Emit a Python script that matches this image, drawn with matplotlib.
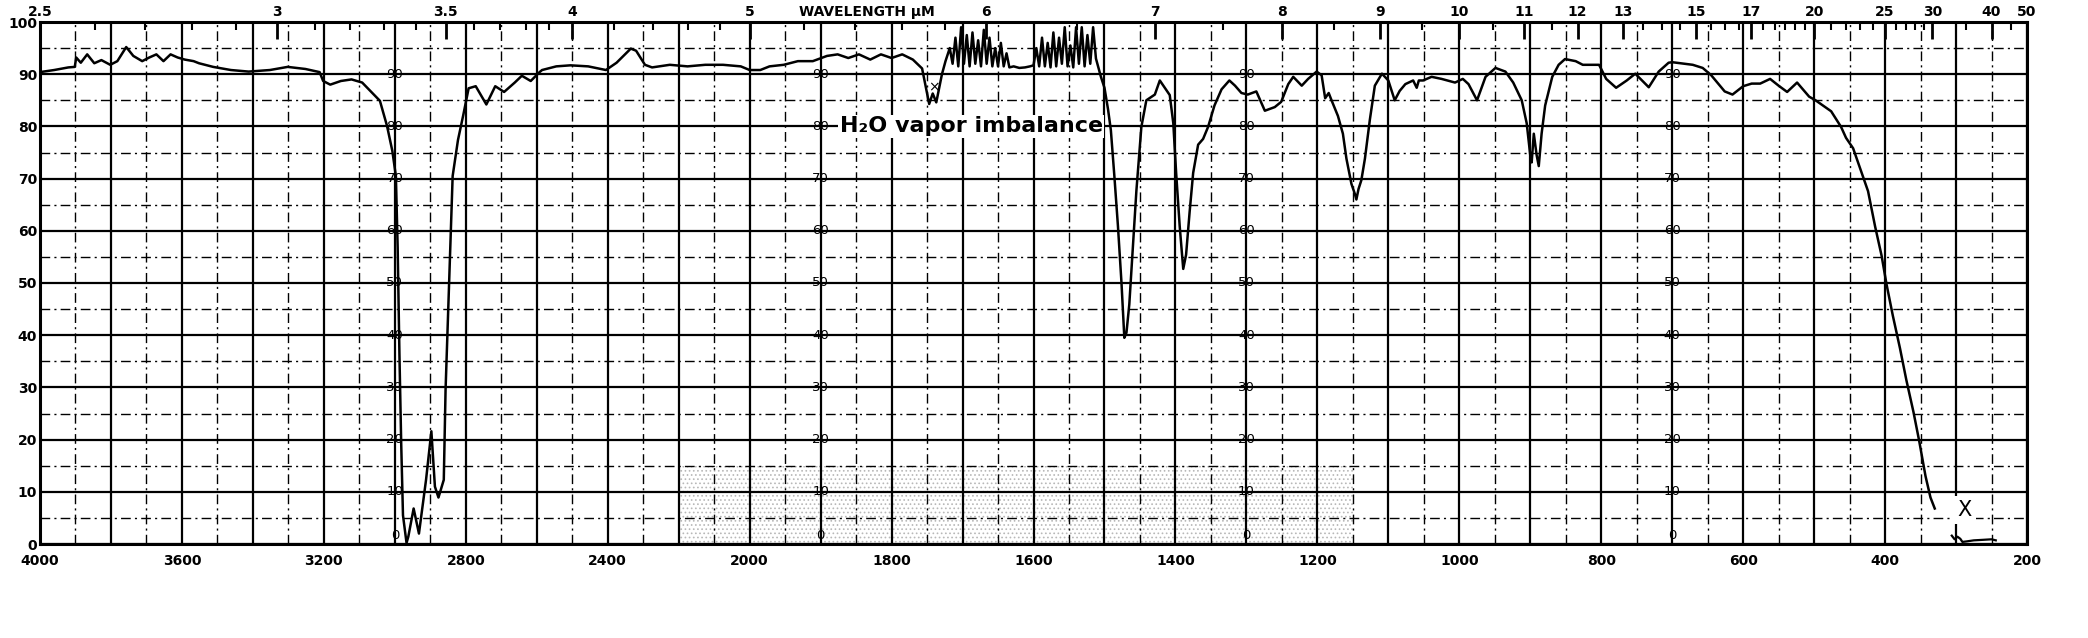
import matplotlib
matplotlib.use("Agg")
import matplotlib.pyplot as plt
import numpy as np

# --------------------------------------------------------------------------
# Spectrum trace (wavenumber cm-1, % transmittance)
# --------------------------------------------------------------------------
wavenumber = [
    4000, 3960, 3920, 3902, 3898, 3885, 3867, 3847, 3827, 3802, 3782, 3757,
    3737, 3712, 3692, 3672, 3652, 3632, 3612, 3592, 3567, 3552, 3512, 3462,
    3412, 3352, 3302, 3252, 3212, 3202, 3182, 3152, 3122, 3092, 3062, 3042,
    3022, 3007, 2997, 2992, 2987, 2982, 2977, 2967, 2962, 2947, 2932, 2912,
    2897, 2887, 2877, 2862, 2857, 2847, 2837, 2822, 2807, 2792, 2772, 2742,
    2717, 2692, 2662, 2642, 2617, 2592, 2585, 2545, 2505, 2455, 2405, 2375,
    2335, 2320, 2295, 2275, 2225, 2175, 2125, 2075, 2025, 2000, 1985, 1972,
    1952, 1932, 1911, 1891, 1876, 1861, 1846, 1830, 1815, 1800, 1785, 1770,
    1757, 1752, 1747, 1742, 1737, 1729, 1724,
    # water vapour spikes
    1718, 1714, 1710, 1706, 1702, 1698, 1694, 1690, 1686, 1682, 1678, 1674,
    1670, 1666, 1662, 1658, 1654, 1650, 1646, 1642, 1638, 1634, 1628, 1620,
    1612, 1605, 1600, 1596, 1592, 1588, 1584, 1580, 1576, 1572, 1568, 1564,
    1560, 1556, 1552, 1548, 1544, 1540, 1536, 1532, 1528, 1524, 1520, 1516,
    1512, 1508,
    1505, 1500, 1495, 1491, 1486, 1481, 1476, 1472, 1469, 1465, 1460, 1455,
    1448, 1441, 1429, 1422, 1415, 1408, 1403, 1399, 1394, 1389, 1385, 1380,
    1375, 1368, 1361, 1354, 1345, 1335, 1324, 1316, 1307, 1298, 1286, 1274,
    1260, 1251, 1241, 1234, 1222, 1213, 1201, 1194, 1189, 1184, 1180, 1171,
    1164, 1159, 1152, 1147, 1145, 1142, 1138, 1133, 1126, 1119, 1109, 1100,
    1091, 1084, 1076, 1065, 1060, 1057, 1051, 1039, 1025, 1006, 995, 987,
    975, 963, 949, 935, 924, 912, 905, 900, 898, 895, 891, 888, 884, 879,
    869, 860, 851, 836, 826, 808, 803, 793, 779, 764, 752, 733, 719, 705,
    700, 671, 657, 645, 626, 615, 600, 588, 576, 562, 550, 538, 524, 507,
    498, 476, 462, 455, 445, 431, 424, 414, 405, 398, 389, 379, 370, 360,
    352, 343, 336, 330,
]
transmittance = [
    90.4, 90.8, 91.3, 91.4, 93.2, 92.2, 93.8, 92.1, 92.7, 91.8, 92.5, 95.2,
    93.5, 92.5, 93.2, 93.8, 92.5, 93.8, 93.2, 92.8, 92.5, 92.1, 91.4, 90.8,
    90.5, 90.8, 91.4, 91.0, 90.4, 88.7, 88.0, 88.7, 89.0, 88.4, 86.3, 84.9,
    80.1, 75.3, 70.5, 56.8, 36.3, 19.2, 5.5, 0.2, 1.4, 6.8, 2.0, 12.3,
    21.6, 11.0, 8.9, 12.3, 29.5, 50.0, 70.5, 77.4, 82.2, 87.3, 87.7, 84.2,
    87.7, 86.6, 88.4, 89.7, 88.7, 90.4, 90.8, 91.5, 91.7, 91.5, 90.8, 92.2,
    94.9, 94.5, 91.8, 91.3, 91.8, 91.5, 91.8, 91.8, 91.5, 90.8, 90.8, 91.5,
    91.8, 92.5, 92.5, 93.5, 93.8, 93.1, 93.8, 92.8, 93.8, 93.1, 93.8, 92.8,
    91.1, 87.7, 84.3, 86.3, 84.6, 90.0, 92.5,
    95.0, 92.0, 97.0, 91.5, 99.0, 92.0, 97.5, 91.5, 98.0, 92.0, 96.5, 91.5,
    98.5, 92.0, 97.0, 91.5, 95.0, 91.5, 96.0, 91.5, 94.0, 91.3, 91.5, 91.2,
    91.3, 91.5, 91.7, 95.0, 91.5, 97.0, 91.5, 96.0, 91.3, 98.0, 91.5, 97.0,
    92.0, 99.0, 91.5, 95.5, 91.3, 99.0, 92.0, 99.0, 91.5, 97.5, 92.0, 99.0,
    93.0, 91.0,
    89.5, 87.4, 83.3, 79.3, 70.4, 60.9, 50.0, 39.5, 40.5, 45.9, 56.8, 67.7,
    79.9, 85.0, 86.1, 88.8, 87.4, 86.0, 80.6, 71.1, 60.9, 52.7, 55.4, 63.6,
    71.1, 76.5, 77.6, 79.9, 84.0, 87.1, 88.8, 87.8, 86.4, 86.1, 86.7, 83.0,
    83.7, 84.7, 88.1, 89.5, 87.8, 89.1, 90.5, 89.8, 85.4, 86.4, 85.0, 82.0,
    78.6, 73.8, 69.0, 67.0, 66.0, 68.0, 69.7, 73.8, 81.3, 87.8, 90.1, 88.8,
    85.0, 86.8, 88.1, 88.8, 87.4, 88.8, 88.8, 89.5, 89.1, 88.4, 89.1, 88.1,
    85.0, 89.5, 91.2, 90.5, 88.4, 85.0, 80.6, 74.5, 73.1, 78.6, 74.5, 72.4, 78.6, 84.0,
    89.5, 91.8, 92.9, 92.5, 91.8, 91.8, 91.8, 89.1, 87.4, 88.8, 90.1, 87.5, 90.5, 92.2,
    92.3, 91.8, 91.2, 89.8, 86.7, 86.1, 87.7, 88.2, 88.2, 89.1, 87.8, 86.6, 88.4, 85.7,
    85.0, 82.9, 79.9, 77.8, 75.8, 70.3, 67.6, 60.8, 55.3, 49.8, 43.7, 37.5, 31.4, 25.3,
    19.8, 13.0, 8.9, 6.8,
]

# short pen squiggle at the bottom right
tail_wavenumber = [306, 302, 298, 294, 291, 285, 275, 262, 250, 244]
tail_transmittance = [1.6, 0.9, 1.4, 1.0, 0.4, 0.5, 0.7, 0.8, 0.9, 0.7]

# axis labels
bottom_labels = [4000, 3600, 3200, 2800, 2400, 2000, 1800, 1600, 1400, 1200,
                 1000, 800, 600, 400, 200]
top_um = [2.5, 3, 3.5, 4, 5, 6, 7, 8, 9, 10, 11, 12, 13, 15, 17, 20, 25, 30, 40, 50]
top_um_labels = ["2.5", "3", "3.5", "4", "5", "6", "7", "8", "9", "10", "11", "12",
                 "13", "15", "17", "20", "25", "30", "40", "50"]
inner_label_wn = [3000, 1900, 1300, 700]
inner_levels = [90, 80, 70, 60, 50, 40, 30, 20, 10, 0]


# chart paper: 4000-2000 at one scale, 2000-200 at double scale
def fwd(w):
    w = np.asarray(w, dtype=float)
    return np.where(w >= 2000, w, 2 * w - 2000)


def inv(u):
    u = np.asarray(u, dtype=float)
    return np.where(u >= 2000, u, (u + 2000) / 2)


fig = plt.figure(figsize=(20.88, 6.38), dpi=100)
ax = fig.add_axes([40 / 2088, 1 - 544 / 638, (2027 - 40) / 2088, (544 - 22) / 638])
ax.set_xscale("function", functions=(fwd, inv))
ax.set_xlim(4000, 200)
ax.set_ylim(0, 100)

# ── grid of the chart paper ─────────────────────────────────────────
major_x = list(range(4000, 1999, -200)) + list(range(1900, 199, -100))
minor_x = list(range(3900, 2000, -200)) + list(range(1950, 200, -100))
ax.set_xticks(major_x)
ax.set_xticklabels([str(v) if v in bottom_labels else "" for v in major_x])
ax.set_xticks(minor_x, minor=True)
ax.set_yticks(range(0, 101, 10))
ax.set_yticks(range(5, 100, 10), minor=True)
ax.grid(which="major", color="black", lw=1.6)
ax.grid(which="minor", color="black", lw=1.0, ls=(0, (7, 3, 1.5, 3)))
ax.tick_params(which="both", length=0)
ax.tick_params(axis="x", pad=7, labelsize=10)
ax.tick_params(axis="y", pad=2, labelsize=10)
for lbl in ax.get_xticklabels() + ax.get_yticklabels():
    lbl.set_fontweight("bold")
for sp in ax.spines.values():
    sp.set_linewidth(2.2)

# stippled paper shading
plt.rcParams["hatch.linewidth"] = 0.7
ax.fill_between([2200, 1150], 0, 15, facecolor="none", hatch="....",
                edgecolor="0.72", lw=0, zorder=0.5)

# printed scale numbers on the paper
for wn in inner_label_wn:
    for lvl in inner_levels:
        ax.text(wn, lvl if lvl else 0.3, str(lvl), ha="center",
                va="center" if lvl else "bottom", fontsize=9.5, zorder=2.5)

# ── spectrum ─────────────────────────────────────────────────────────
ax.plot(wavenumber, transmittance, color="black", lw=1.8, zorder=3)
ax.plot(tail_wavenumber, tail_transmittance, color="black", lw=1.6, zorder=3)

ax.text(1873, 80, "H₂O vapor imbalance", ha="left", va="center", fontsize=16,
        fontweight="bold", zorder=4,
        bbox=dict(facecolor="white", edgecolor="none", pad=1))
ax.text(1740, 87.5, "×", ha="center", va="center", fontsize=10, zorder=4)
ax.text(288, 6.5, "X", ha="center", va="center", fontsize=15, zorder=4,
        bbox=dict(facecolor="white", edgecolor="none", pad=3))

# ── wavelength scale on top ──────────────────────────────────────────
minor_um = np.concatenate([np.arange(2.6, 4.0, 0.1), np.arange(4.2, 6.0, 0.2),
                           np.arange(6.5, 10.0, 0.5), np.arange(10.5, 20.0, 0.5),
                           np.arange(21, 30, 1), np.arange(35, 50, 5)])
top = ax.twiny()
top.set_xscale("function", functions=(fwd, inv))
top.set_xlim(4000, 200)
top.set_xticks([1e4 / m for m in top_um])
top.set_xticklabels(top_um_labels)
top.set_xticks([1e4 / m for m in minor_um], minor=True)
top.tick_params(axis="x", which="major", direction="in", length=12, width=2,
                pad=2, labelsize=10)
top.tick_params(axis="x", which="minor", direction="in", length=6, width=1.5)
for lbl in top.get_xticklabels():
    lbl.set_fontweight("bold")
for sp in top.spines.values():
    sp.set_visible(False)
ax.text(1835, 1.006, "WAVELENGTH μM", transform=ax.get_xaxis_transform(),
        ha="center", va="bottom", fontsize=10, fontweight="bold")

fig.savefig("out.png", dpi=100)
